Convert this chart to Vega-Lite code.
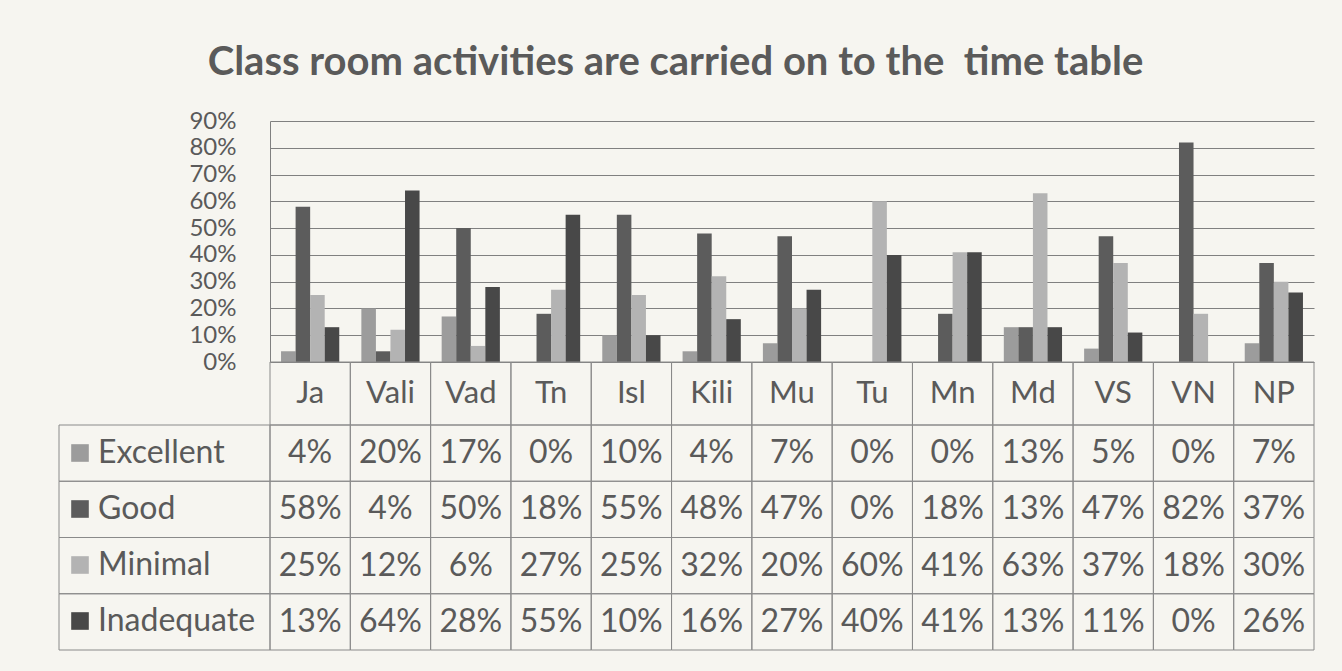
{
  "$schema": "https://vega.github.io/schema/vega-lite/v6.json",
  "background": "#f6f5f0",
  "padding": {"left": 58, "top": 43, "right": 29, "bottom": 20},
  "title": {
    "text": "Class room activities are carried on to the\u00a0 time table",
    "font": "Lato",
    "fontSize": 40,
    "fontWeight": "bold",
    "color": "#5a5a5a",
    "anchor": "middle",
    "offset": 26,
    "dx": -11
  },
  "datasets": {
    "d": [
      {"cat": "Ja", "series": "Excellent", "value": 0.04},
      {"cat": "Ja", "series": "Good", "value": 0.58},
      {"cat": "Ja", "series": "Minimal", "value": 0.25},
      {"cat": "Ja", "series": "Inadequate", "value": 0.13},
      {"cat": "Vali", "series": "Excellent", "value": 0.20},
      {"cat": "Vali", "series": "Good", "value": 0.04},
      {"cat": "Vali", "series": "Minimal", "value": 0.12},
      {"cat": "Vali", "series": "Inadequate", "value": 0.64},
      {"cat": "Vad", "series": "Excellent", "value": 0.17},
      {"cat": "Vad", "series": "Good", "value": 0.50},
      {"cat": "Vad", "series": "Minimal", "value": 0.06},
      {"cat": "Vad", "series": "Inadequate", "value": 0.28},
      {"cat": "Tn", "series": "Excellent", "value": 0.00},
      {"cat": "Tn", "series": "Good", "value": 0.18},
      {"cat": "Tn", "series": "Minimal", "value": 0.27},
      {"cat": "Tn", "series": "Inadequate", "value": 0.55},
      {"cat": "Isl", "series": "Excellent", "value": 0.10},
      {"cat": "Isl", "series": "Good", "value": 0.55},
      {"cat": "Isl", "series": "Minimal", "value": 0.25},
      {"cat": "Isl", "series": "Inadequate", "value": 0.10},
      {"cat": "Kili", "series": "Excellent", "value": 0.04},
      {"cat": "Kili", "series": "Good", "value": 0.48},
      {"cat": "Kili", "series": "Minimal", "value": 0.32},
      {"cat": "Kili", "series": "Inadequate", "value": 0.16},
      {"cat": "Mu", "series": "Excellent", "value": 0.07},
      {"cat": "Mu", "series": "Good", "value": 0.47},
      {"cat": "Mu", "series": "Minimal", "value": 0.20},
      {"cat": "Mu", "series": "Inadequate", "value": 0.27},
      {"cat": "Tu", "series": "Excellent", "value": 0.00},
      {"cat": "Tu", "series": "Good", "value": 0.00},
      {"cat": "Tu", "series": "Minimal", "value": 0.60},
      {"cat": "Tu", "series": "Inadequate", "value": 0.40},
      {"cat": "Mn", "series": "Excellent", "value": 0.00},
      {"cat": "Mn", "series": "Good", "value": 0.18},
      {"cat": "Mn", "series": "Minimal", "value": 0.41},
      {"cat": "Mn", "series": "Inadequate", "value": 0.41},
      {"cat": "Md", "series": "Excellent", "value": 0.13},
      {"cat": "Md", "series": "Good", "value": 0.13},
      {"cat": "Md", "series": "Minimal", "value": 0.63},
      {"cat": "Md", "series": "Inadequate", "value": 0.13},
      {"cat": "VS", "series": "Excellent", "value": 0.05},
      {"cat": "VS", "series": "Good", "value": 0.47},
      {"cat": "VS", "series": "Minimal", "value": 0.37},
      {"cat": "VS", "series": "Inadequate", "value": 0.11},
      {"cat": "VN", "series": "Excellent", "value": 0.00},
      {"cat": "VN", "series": "Good", "value": 0.82},
      {"cat": "VN", "series": "Minimal", "value": 0.18},
      {"cat": "VN", "series": "Inadequate", "value": 0.00},
      {"cat": "NP", "series": "Excellent", "value": 0.07},
      {"cat": "NP", "series": "Good", "value": 0.37},
      {"cat": "NP", "series": "Minimal", "value": 0.30},
      {"cat": "NP", "series": "Inadequate", "value": 0.26}
    ],
    "cats": [
      {"cat": "Ja"}, {"cat": "Vali"}, {"cat": "Vad"}, {"cat": "Tn"}, {"cat": "Isl"},
      {"cat": "Kili"}, {"cat": "Mu"}, {"cat": "Tu"}, {"cat": "Mn"}, {"cat": "Md"},
      {"cat": "VS"}, {"cat": "VN"}, {"cat": "NP"}
    ],
    "series": [
      {"series": "Excellent"}, {"series": "Good"}, {"series": "Minimal"}, {"series": "Inadequate"}
    ]
  },
  "columns": 2,
  "align": "each",
  "bounds": "flush",
  "spacing": 0,
  "concat": [
    {
      "width": 211,
      "height": 241,
      "data": {"values": [{}]},
      "mark": {"type": "rect", "opacity": 0},
      "encoding": {}
    },
    {
      "width": 1044,
      "height": 241,
      "data": {"name": "d"},
      "mark": {"type": "bar"},
      "encoding": {
        "x": {
          "field": "cat",
          "type": "nominal",
          "sort": ["Ja", "Vali", "Vad", "Tn", "Isl", "Kili", "Mu", "Tu", "Mn", "Md", "VS", "VN", "NP"],
          "scale": {"paddingInner": 0.275, "paddingOuter": 0.1375},
          "axis": null
        },
        "xOffset": {
          "field": "series",
          "type": "nominal",
          "sort": ["Excellent", "Good", "Minimal", "Inadequate"],
          "scale": {"paddingInner": 0, "paddingOuter": 0}
        },
        "y": {
          "field": "value",
          "type": "quantitative",
          "scale": {"domain": [0, 0.9], "nice": false},
          "axis": {
            "title": null,
            "format": ".0%",
            "values": [0, 0.1, 0.2, 0.3, 0.4, 0.5, 0.6, 0.7, 0.8, 0.9],
            "labelOverlap": false,
            "grid": true,
            "gridColor": "#808080",
            "gridOpacity": 1,
            "gridWidth": 1,
            "domain": true,
            "domainColor": "#808080",
            "ticks": false,
            "labelFont": "Lato",
            "labelFontSize": 24,
            "labelColor": "#5a5a5a",
            "labelPadding": 34
          }
        },
        "color": {
          "field": "series",
          "type": "nominal",
          "scale": {
            "domain": ["Excellent", "Good", "Minimal", "Inadequate"],
            "range": ["#9c9c9c", "#5c5c5c", "#b3b3b3", "#484848"]
          },
          "legend": {
            "orient": "none",
            "legendX": 5,
            "legendY": 316,
            "title": null,
            "padding": 0,
            "symbolType": "square",
            "symbolSize": 310,
            "symbolStrokeWidth": 0,
            "symbolOpacity": 1,
            "labelFont": "Lato",
            "labelFontSize": 32,
            "labelColor": "#5a5a5a",
            "labelOffset": 2,
            "rowPadding": 24,
            "labelLimit": 300
          }
        }
      }
    },
    {
      "width": 211,
      "height": 63,
      "data": {"values": [{}]},
      "mark": {"type": "rect", "opacity": 0},
      "encoding": {}
    },
    {
      "width": 1044,
      "height": 63,
      "data": {"name": "cats"},
      "encoding": {
        "x": {
          "field": "cat",
          "type": "nominal",
          "sort": ["Ja", "Vali", "Vad", "Tn", "Isl", "Kili", "Mu", "Tu", "Mn", "Md", "VS", "VN", "NP"],
          "scale": {"paddingInner": 0, "paddingOuter": 0},
          "axis": null
        }
      },
      "layer": [
        {"mark": {"type": "rect", "fill": "transparent", "stroke": "#8a8a8a", "strokeWidth": 1}},
        {
          "mark": {"type": "text", "font": "Lato", "fontSize": 31, "color": "#5a5a5a"},
          "encoding": {"text": {"field": "cat"}}
        }
      ]
    },
    {
      "width": 211,
      "height": 225,
      "data": {"name": "series"},
      "mark": {"type": "rect", "fill": "transparent", "stroke": "#8a8a8a", "strokeWidth": 1},
      "encoding": {
        "y": {
          "field": "series",
          "type": "nominal",
          "sort": ["Excellent", "Good", "Minimal", "Inadequate"],
          "scale": {"paddingInner": 0, "paddingOuter": 0},
          "axis": null
        }
      }
    },
    {
      "width": 1044,
      "height": 225,
      "data": {"name": "d"},
      "encoding": {
        "x": {
          "field": "cat",
          "type": "nominal",
          "sort": ["Ja", "Vali", "Vad", "Tn", "Isl", "Kili", "Mu", "Tu", "Mn", "Md", "VS", "VN", "NP"],
          "scale": {"paddingInner": 0, "paddingOuter": 0},
          "axis": null
        },
        "y": {
          "field": "series",
          "type": "nominal",
          "sort": ["Excellent", "Good", "Minimal", "Inadequate"],
          "scale": {"paddingInner": 0, "paddingOuter": 0},
          "axis": null
        }
      },
      "layer": [
        {"mark": {"type": "rect", "fill": "transparent", "stroke": "#8a8a8a", "strokeWidth": 1}},
        {
          "mark": {"type": "text", "font": "Lato", "fontSize": 32, "color": "#5a5a5a"},
          "encoding": {"text": {"field": "value", "type": "quantitative", "format": ".0%"}}
        }
      ]
    }
  ],
  "config": {
    "view": {"stroke": null},
    "font": "Lato"
  }
}
